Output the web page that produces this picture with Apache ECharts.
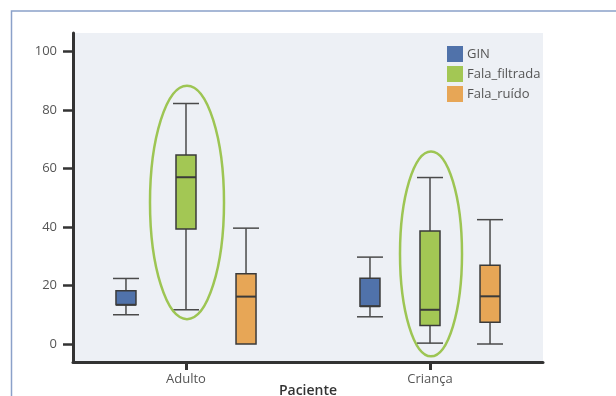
<!DOCTYPE html>
<html>
<head>
<meta charset="utf-8">
<style>
  html, body { margin: 0; padding: 0; background: #ffffff; }
  #chart { width: 616px; height: 396px; }
</style>
<script src="https://cdn.jsdelivr.net/npm/echarts@6/dist/echarts.min.js"></script>
</head>
<body>
<div id="chart"></div>
<script>
// Patient groups along the x axis
const categories = ['Adulto', 'Criança'];

// Box statistics per group: [min, Q1, median, Q3, max]
const gin = [
  [10.0, 13.4, 13.4, 18.2, 22.4],
  [9.3, 12.9, 12.9, 22.5, 29.7]
];
const falaFiltrada = [
  [11.7, 39.3, 57.0, 64.6, 82.2],
  [0.3, 6.3, 11.7, 38.6, 56.9]
];
const falaRuido = [
  [0.0, 0.0, 16.2, 24.0, 39.6],
  [0.0, 7.4, 16.3, 26.9, 42.5]
];

// Vertical extent [low, high] of the highlight ring around each filtered-speech box
const highlightRange = [
  [8.5, 88.3],
  [-4.2, 65.8]
];

const yTicks = [0, 20, 40, 60, 80, 100];

const seriesDefs = [
  { name: 'GIN', values: gin, color: '#5072aa', offset: -0.246 },
  { name: 'Fala_filtrada', values: falaFiltrada, color: '#a3c754', offset: 0 },
  { name: 'Fala_ruído', values: falaRuido, color: '#e7a656', offset: 0.246 }
];

const BOX_HALF = 10;   // px
const CAP_HALF = 13;   // px
const LINE = '#3a3a3a';

function boxRenderer(offset, color) {
  return function (params, api) {
    const xi = api.value(0) + offset;
    const lo = api.value(1), q1 = api.value(2), med = api.value(3), q3 = api.value(4), hi = api.value(5);
    const cx = api.coord([xi, 0])[0];
    const y = v => api.coord([xi, v])[1];
    const whisker = { stroke: '#4a4a4a', lineWidth: 1.5 };
    const children = [];
    if (hi > q3) {
      children.push({ type: 'line', shape: { x1: cx, y1: y(hi), x2: cx, y2: y(q3) }, style: whisker });
      children.push({ type: 'line', shape: { x1: cx - CAP_HALF, y1: y(hi), x2: cx + CAP_HALF, y2: y(hi) }, style: whisker });
    }
    if (lo < q1) {
      children.push({ type: 'line', shape: { x1: cx, y1: y(q1), x2: cx, y2: y(lo) }, style: whisker });
      children.push({ type: 'line', shape: { x1: cx - CAP_HALF, y1: y(lo), x2: cx + CAP_HALF, y2: y(lo) }, style: whisker });
    }
    children.push({
      type: 'rect',
      shape: { x: cx - BOX_HALF, y: y(q3), width: BOX_HALF * 2, height: y(q1) - y(q3) },
      style: { fill: color, stroke: LINE, lineWidth: 1.5 }
    });
    children.push({ type: 'line', shape: { x1: cx - BOX_HALF, y1: y(med), x2: cx + BOX_HALF, y2: y(med) }, style: { stroke: LINE, lineWidth: 2 } });
    return { type: 'group', children: children };
  };
}

const series = seriesDefs.map(d => ({
  name: d.name,
  type: 'custom',
  itemStyle: { color: d.color },
  clip: false,
  data: d.values.map((v, i) => [i].concat(v)),
  renderItem: boxRenderer(d.offset, d.color)
}));

// Green rings drawn around the filtered-speech boxes
const RING_RX = [37, 31];
series.push({
  type: 'custom',
  silent: true,
  clip: false,
  z: 5,
  data: highlightRange.map((r, i) => [i, r[0], r[1]]),
  renderItem: function (params, api) {
    const i = api.value(0);
    const top = api.coord([i, api.value(2)]);
    const bot = api.coord([i, api.value(1)]);
    return {
      type: 'ellipse',
      shape: { cx: top[0] + 1, cy: (top[1] + bot[1]) / 2, rx: RING_RX[params.dataIndex], ry: (bot[1] - top[1]) / 2 },
      style: { fill: 'none', stroke: '#9dc553', lineWidth: 2.5 }
    };
  }
});

const chart = echarts.init(document.getElementById('chart'));
chart.setOption({
  animation: false,
  backgroundColor: '#ffffff',
  textStyle: { fontFamily: 'Open Sans' },
  graphic: [{
    type: 'rect',
    shape: { x: 11.5, y: 11, width: 700, height: 500 },
    style: { fill: 'none', stroke: '#8ba1c9', lineWidth: 1.5 },
    z: -10
  }],
  grid: {
    left: 73, right: 73, top: 33, bottom: 34,
    outerBoundsMode: 'none',
    containLabel: false,
    show: true, backgroundColor: '#edf0f5', borderWidth: 0
  },
  legend: {
    orient: 'vertical',
    left: 447, top: 46,
    padding: 0,
    itemGap: 4,
    itemWidth: 16, itemHeight: 16,
    icon: 'rect',
    data: seriesDefs.map(d => d.name),
    textStyle: { fontSize: 13, color: '#555555', padding: [0, 0, 0, -1] }
  },
  xAxis: {
    type: 'value',
    min: -0.4631, max: 1.4631,
    name: 'Paciente',
    nameLocation: 'middle',
    nameGap: 22,
    nameMoveOverlap: false,
    nameTextStyle: { fontSize: 14, fontWeight: 600, color: '#333333' },
    axisLine: { show: true, onZero: false, lineStyle: { color: '#333333', width: 3 } },
    axisTick: { show: true, length: 8, lineStyle: { color: '#333333', width: 3 }, customValues: [0, 1] },
    axisLabel: { customValues: [0, 1], fontSize: 13, color: '#555555', margin: 11, formatter: v => categories[Math.round(v)] },
    splitLine: { show: false }
  },
  yAxis: {
    type: 'value',
    min: -6.15, max: 106.3,
    axisLine: { show: true, onZero: false, lineStyle: { color: '#333333', width: 3 } },
    axisTick: { show: true, length: 10, lineStyle: { color: '#333333', width: 2.5 }, customValues: yTicks },
    axisLabel: { customValues: yTicks, fontSize: 13, color: '#555555', margin: 16 },
    splitLine: { show: false }
  },
  series: series
});
</script>
</body>
</html>
